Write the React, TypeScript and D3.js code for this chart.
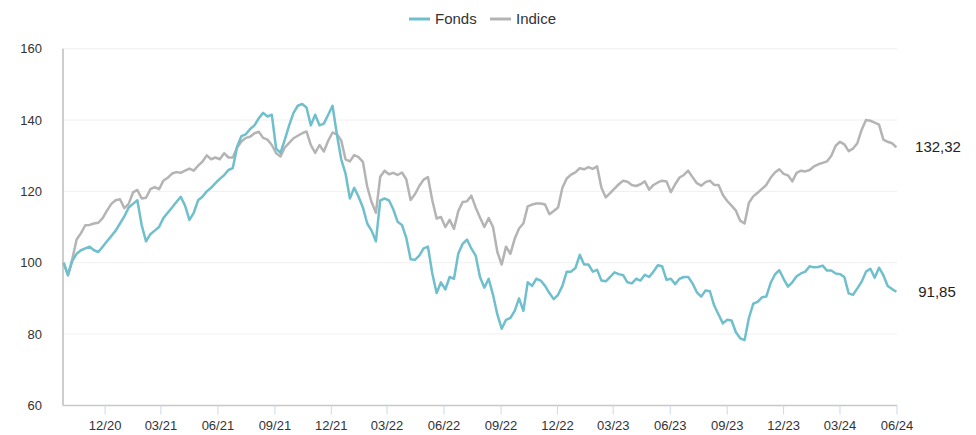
import * as d3 from 'd3';

// weekly closes, base 100
const startDate = new Date(2020, 8, 25);

const fondsValues = [
  100, 96.5, 100.5, 102.5, 103.5, 104, 104.5, 103.5, 103, 104.5,
  106, 107.5, 109, 111, 113, 115.5, 116.5, 117.5, 110.5, 106,
  108, 109, 110, 112.5, 114, 115.5, 117, 118.5, 116, 112,
  114, 117.5, 118.5, 120, 121, 122.3, 123.5, 124.5, 126, 126.5,
  132.5, 135.5, 136, 137.5, 138.5, 140.5, 142, 141, 141.5, 132,
  130.8, 134.5, 138.5, 142, 144, 144.5, 143.5, 138.5, 141.5, 138.5,
  139, 141.5, 144, 136, 129, 125, 118, 121, 118.5, 115.5,
  111, 109, 106, 117.5, 118, 117.5, 115, 111.5, 110.6, 107,
  101, 100.8, 102, 104, 104.5, 97, 91.5, 94.5, 92.5, 96,
  95.5, 102.6, 105.3, 106.5, 104, 102, 96, 93, 95.5, 91,
  85.5, 81.5, 84, 84.5, 86.5, 90, 86.5, 94.5, 93.5, 95.5,
  95, 93.5, 91.5, 89.8, 91, 93.5, 97.5, 97.5, 98.5, 102.2,
  99.5, 99.5, 97.5, 98, 95, 94.8, 96, 97.3, 96.8, 96.5,
  94.5, 94.2, 95.5, 95, 96.6, 96, 97.5, 99.3, 99, 95.2,
  95.5, 94, 95.5, 96, 96, 94.2, 91.7, 90.5, 92.2, 92,
  88, 85.5, 83, 84, 83.8, 80.5, 78.8, 78.3, 84.5, 88.5,
  89, 90.3, 90.5, 94.3, 96.7, 97.9, 95.5, 93.3, 94.5, 96.2,
  97, 97.5, 99, 98.7, 98.8, 99.2, 97.8, 97.8, 97, 96.8,
  96, 91.4, 91, 92.8, 94.7, 97.5, 98.3, 95.8, 98.6, 96.5,
  93.5, 92.6, 91.85,
];

const indiceValues = [
  100, 96.5, 101, 106.5, 108.3, 110.5, 110.6, 111, 111.2, 112.5,
  114.6, 116.5, 117.5, 117.8, 115.3, 116.5, 119.7, 120.4, 118, 118.2,
  120.6, 121.2, 120.6, 123, 123.8, 125, 125.4, 125.2, 125.8, 126.4,
  125.8, 127.2, 128.3, 130.1, 129, 129.5, 129, 130.7, 129.5, 129.5,
  132.3, 134, 135, 135.3, 136.3, 136.7, 135, 134.5, 133, 130.7,
  129.8, 132.3, 133.6, 134.9, 135.6, 136.3, 136.8, 133, 130.8, 133,
  131.2, 134.2, 136.5, 136, 134.3, 129, 128.4, 130.2, 129.6, 128.3,
  121.3, 117, 114, 124.1, 125.8, 124.8, 125.2, 124.6, 125.3, 123.4,
  117.6, 119.2, 121.5, 123.3, 124, 117.5, 112.4, 112.8, 110, 112,
  109.5, 114.5, 117, 117.2, 118.8, 115.5, 112.7, 110, 112.5, 110,
  103, 99.5, 104.5, 102.5, 106.7, 109.6, 111, 115.8, 116.3, 116.6,
  116.6, 116.3, 113.6, 114.5, 115.5, 121, 123.6, 124.7, 125.3, 126.5,
  126.2, 126.8, 126.3, 127, 121, 118.3, 119.5, 120.8, 122, 123,
  122.7, 121.8, 121.5, 122, 122.8, 120.5, 121.8, 122.5, 123, 122.8,
  119.8, 122, 123.9, 124.6, 125.8, 124, 122.3, 121.6, 122.6, 123,
  121.8, 121.8, 119, 117.3, 116, 114.6, 111.8, 111, 116.8, 118.6,
  119.6, 120.7, 121.8, 123.8, 125.3, 126.2, 124.9, 124.5, 122.8, 125.2,
  125.8, 125.6, 126, 127, 127.6, 128, 128.4, 130, 132.8, 133.9,
  133.2, 131.3, 132, 133.5, 137.3, 140, 139.8, 139.3, 138.7, 134.5,
  133.9, 133.5, 132.32,
];

const yTicks = [60, 80, 100, 120, 140, 160];
const xTickDates = [
  new Date(2020, 11, 1), new Date(2021, 2, 1), new Date(2021, 5, 1), new Date(2021, 8, 1),
  new Date(2021, 11, 1), new Date(2022, 2, 1), new Date(2022, 5, 1), new Date(2022, 8, 1),
  new Date(2022, 11, 1), new Date(2023, 2, 1), new Date(2023, 5, 1), new Date(2023, 8, 1),
  new Date(2023, 11, 1), new Date(2024, 2, 1), new Date(2024, 5, 1),
];
const seriesNames = ['Fonds', 'Indice'];
const colors = ['#6fbfcd', '#b4b4b4'];

const dates = fondsValues.map((_, i) => d3.timeDay.offset(startDate, i * 7));

const width = 976;
const height = 435;
const margin = { top: 48.7, right: 79, bottom: 29.6, left: 63 };
const font = '"Liberation Sans", Arial, Helvetica, sans-serif';
const fmt = d3.format(',.2f');
const frNum = (v: number) => fmt(v).replace('.', ',');

export default function App() {
  const x = d3.scaleTime()
    .domain([new Date(2020, 8, 24), new Date(2024, 5, 1)])
    .range([margin.left, width - margin.right]);
  const y = d3.scaleLinear()
    .domain([60, 160])
    .range([height - margin.bottom, margin.top]);

  const line = d3.line<number>()
    .x((_, i) => x(dates[i]))
    .y(d => y(d));

  const series = [fondsValues, indiceValues];
  const fmtTick = d3.timeFormat('%m/%y');
  const x0 = margin.left;
  const x1 = width - margin.right;
  const yBottom = y(60);

  return (
    <>
      <style>{`body { margin: 0; }`}</style>
      <svg width={width} height={height} style={{ display: 'block', fontFamily: font }}>
        {/* grid */}
        {yTicks.map(t => (
          <line key={t} x1={x0} x2={x1} y1={y(t)} y2={y(t)} stroke="#f0f0f0" strokeWidth={1} />
        ))}
        {yTicks.map(t => (
          <text key={'l' + t} x={42} y={y(t) + 4.5} textAnchor="end" fontSize={13} fill="#333">{t}</text>
        ))}

        {/* axes */}
        <line x1={x0} x2={x0} y1={margin.top} y2={yBottom} stroke="#bdbdbd" strokeWidth={1.5} />
        <line x1={x0} x2={x1} y1={yBottom} y2={yBottom} stroke="#c8c8c8" strokeWidth={1.5} />
        {xTickDates.map(d => (
          <g key={d.getTime()}>
            <line x1={x(d)} x2={x(d)} y1={yBottom} y2={yBottom + 9} stroke="#ccd6eb" strokeWidth={1} />
            <text x={x(d)} y={430} textAnchor="middle" fontSize={13} fill="#333">{fmtTick(d)}</text>
          </g>
        ))}

        {/* lines, index drawn first */}
        {[1, 0].map(k => (
          <path key={k} d={line(series[k]) ?? ''} fill="none" stroke={colors[k]}
            strokeWidth={2.5} strokeLinejoin="round" />
        ))}

        {/* last values */}
        <text x={938} y={y(indiceValues[indiceValues.length - 1]) + 5} textAnchor="middle" fontSize={15} fill="#222">
          {frNum(indiceValues[indiceValues.length - 1])}
        </text>
        <text x={937} y={y(fondsValues[fondsValues.length - 1]) + 5} textAnchor="middle" fontSize={15} fill="#222">
          {frNum(fondsValues[fondsValues.length - 1])}
        </text>

        {/* legend */}
        {seriesNames.map((name, k) => {
          const lx = k === 0 ? 409 : 490;
          return (
            <g key={name}>
              <line x1={lx} x2={lx + 21} y1={19} y2={19} stroke={colors[k]} strokeWidth={3} />
              <text x={lx + 26} y={24} fontSize={15} fill="#333">{name}</text>
            </g>
          );
        })}
      </svg>
    </>
  );
}
